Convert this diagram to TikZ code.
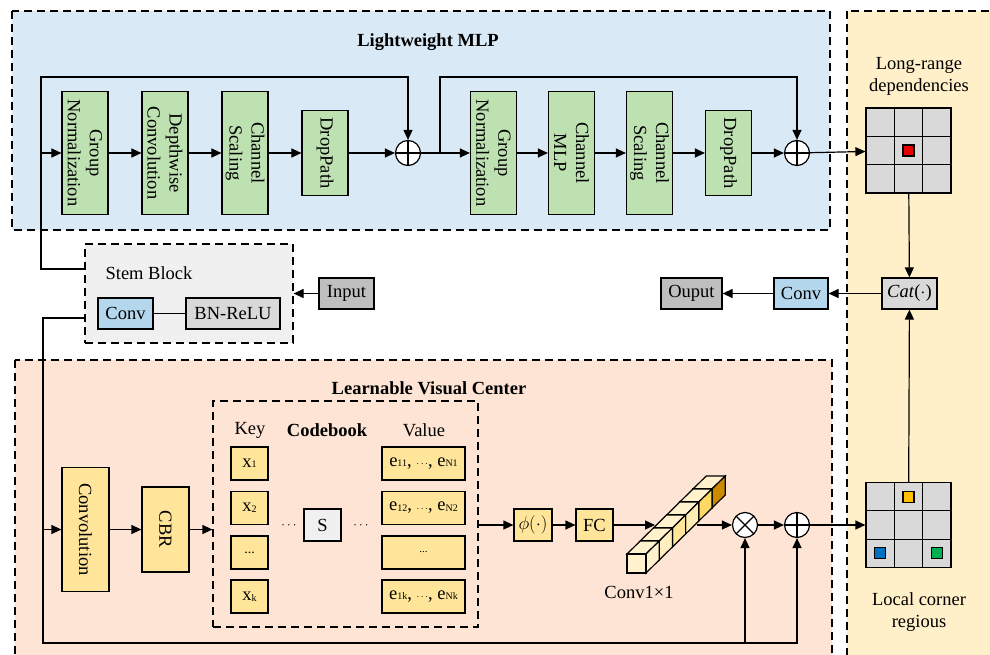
\RequirePackage{fix-cm}
\documentclass[tikz,border=0pt]{standalone}
\usepackage{fontspec}
\setmainfont{Liberation Serif}
\usetikzlibrary{arrows.meta}

\definecolor{mlpblue}{RGB}{218,233,246}
\definecolor{mlpgreen}{RGB}{190,225,178}
\definecolor{cornyellow}{RGB}{255,240,201}
\definecolor{lvcsalmon}{RGB}{253,228,212}
\definecolor{stemgray}{RGB}{240,240,240}
\definecolor{convblue}{RGB}{180,215,238}
\definecolor{bngray}{RGB}{217,217,217}
\definecolor{iogray}{RGB}{191,191,191}
\definecolor{keyyellow}{RGB}{255,229,153}
\definecolor{cellgray}{RGB}{217,217,217}
\definecolor{cellred}{RGB}{230,0,0}
\definecolor{cellorange}{RGB}{255,192,0}
\definecolor{cellblue}{RGB}{0,112,192}
\definecolor{cellgreen}{RGB}{0,176,80}
\definecolor{cubecream}{RGB}{255,242,204}
\definecolor{cubeA}{RGB}{255,242,204}
\definecolor{cubeB}{RGB}{255,238,192}
\definecolor{cubeC}{RGB}{255,230,153}
\definecolor{cubeD}{RGB}{255,236,180}
\definecolor{cubeE}{RGB}{255,217,102}
\definecolor{cubeF}{RGB}{204,138,0}

\newcommand{\ksub}[1]{\raisebox{-0.5pt}{\fontsize{10}{10}\selectfont #1}}

\tikzset{
	panel/.style={dash pattern=on 8pt off 5pt},
	box/.style={draw, inner sep=0pt, align=center},
	greenbox/.style={box, fill=mlpgreen, rotate=-90, minimum height=46pt},
	yellowbox/.style={box, fill=keyyellow},
	keybox/.style={yellowbox, minimum width=37pt, minimum height=33pt},
	valbox/.style={yellowbox, minimum width=83pt, minimum height=33pt},
	plus/.style={circle, draw, fill=white, minimum size=25pt, inner sep=0pt,
		path picture={\draw (path picture bounding box.north) -- (path picture bounding box.south)
			(path picture bounding box.west) -- (path picture bounding box.east);}},
	times/.style={circle, draw, fill=white, minimum size=25pt, inner sep=0pt,
		path picture={\draw (path picture bounding box.north west) -- (path picture bounding box.south east)
			(path picture bounding box.north east) -- (path picture bounding box.south west);}},
	mark square/.style={box, minimum size=11pt}
}

\begin{document}
\begin{tikzpicture}[x=1pt,y=-1pt,line width=1.2pt,>={Triangle[length=10pt,width=9pt]},font=\fontsize{18.5}{22}\selectfont]
		
		\path[use as bounding box,clip] (0,0) rectangle (990,655);
		
		\draw[panel,fill=mlpblue] (12,11) rectangle (830,230);
		\draw[panel,fill=cornyellow] (847,11) rectangle (1000,670);
		\draw[panel,fill=lvcsalmon] (15,360) rectangle (832,670);
		
		\node(mlptitle) at (428,42){\textbf{Lightweight MLP}};
		\node(lvctitle) at (429,388){\textbf{Learnable Visual Center}};
		
		\node(gn1) at (85,153)[greenbox, minimum width=123pt]{Group\\Normalization};
		\node(dw) at (165,153)[greenbox, minimum width=123pt]{Depthwise\\Convolution};
		\node(cs1) at (245,153)[greenbox, minimum width=123pt]{Channel\\Scaling};
		\node(dp1) at (325,153)[greenbox, minimum width=85pt]{DropPath};
		\node(plus1) at (408,153)[plus]{};
		\node(gn2) at (493.5,153)[greenbox, minimum width=123pt]{Group\\Normalization};
		\node(mlp) at (571.5,153)[greenbox, minimum width=123pt]{Channel\\MLP};
		\node(cs2) at (649.5,153)[greenbox, minimum width=123pt]{Channel\\Scaling};
		\node(dp2) at (728.5,153)[greenbox, minimum width=85pt]{DropPath};
		\node(plus2) at (797,153)[plus]{};
		\coordinate(split1) at (41,153);
		\coordinate(split2) at (440,153);
		
		\node(lrtext) at (919,76)[align=center]{Long-range\\dependencies};
		\node(lrgrid) at (908.5,150.5)[box, fill=cellgray, minimum size=85pt]{};
		\foreach \k in {1,2} {
			\draw (866+28.33*\k,108) -- ++(0,85);
			\draw (866,108+28.33*\k) -- ++(85,0);
		}
		\node(redsq) at (908.5,150.5)[mark square, fill=cellred]{};
		
		\node(stem) at (189,293.5)[draw, panel, fill=stemgray, minimum width=208pt, minimum height=99pt]{};
		\node(stemtext) at (149,273){Stem Block};
		\node(conv1) at (125.5,313.5)[box, fill=convblue, minimum width=55pt, minimum height=31pt]{Conv};
		\node(bnrelu) at (233,313.5)[box, fill=bngray, minimum width=94pt, minimum height=31pt]{BN-ReLU};
		\node(input) at (346.5,293.5)[box, fill=iogray, minimum width=55pt, minimum height=31pt]{Input};
		\coordinate(sin) at (85,269);
		\coordinate(sout) at (85,318);
		
		\node(cat) at (909.5,293.5)[box, fill=bngray, minimum width=55pt, minimum height=31pt]{\textit{Cat}($\cdot$)};
		\node(conv2) at (801,293.5)[box, fill=convblue, minimum width=54pt, minimum height=31pt]{Conv};
		\node(outp) at (691.5,293.5)[box, fill=iogray, minimum width=61pt, minimum height=31pt]{Ouput};
		
		\node(convol) at (85.5,529.5)[box, fill=keyyellow, rotate=-90, minimum width=124pt, minimum height=47pt]{Convolution};
		\node(cbr) at (165.5,529.5)[box, fill=keyyellow, rotate=-90, minimum width=85pt, minimum height=47pt]{CBR};
		\coordinate(split3) at (43,529.5);
		\coordinate(sbot) at (43,643);
		
		\node(cb) at (345.5,514)[draw, panel, minimum width=265pt, minimum height=226pt]{};
		\node(keytext) at (250,430){Key};
		\node(cbtext) at (327,430){\textbf{Codebook}};
		\node(valtext) at (424,430){Value};
		\node(k1) at (249.5,463.5)[keybox]{x\ksub{1}};
		\node(k2) at (249.5,508)[keybox]{x\ksub{2}};
		\node(k3) at (249.5,552.5)[keybox]{\fontsize{14}{14}\selectfont...};
		\node(k4) at (249.5,596.5)[keybox]{x\ksub{k}};
		\node(v1) at (423.5,463.5)[valbox]{e\ksub{11}, \ksub{$\cdots$}, e\ksub{N1}};
		\node(v2) at (423.5,508)[valbox]{e\ksub{12}, \ksub{$\cdots$}, e\ksub{N2}};
		\node(v3) at (423.5,552.5)[valbox]{\fontsize{11}{11}\selectfont...};
		\node(v4) at (423.5,596.5)[valbox]{e\ksub{1k}, \ksub{$\cdots$}, e\ksub{Nk}};
		\node(s) at (322.5,525)[box, fill=stemgray, minimum width=37pt, minimum height=32pt]{S};
		\node(dots1) at (289,526){\fontsize{13}{13}\selectfont$\cdots$};
		\node(dots2) at (361,526){\fontsize{13}{13}\selectfont$\cdots$};
		
		\node(phi) at (533,525)[yellowbox, minimum width=38pt, minimum height=32pt]{$\phi(\cdot)$};
		\node(fc) at (594.5,525)[yellowbox, minimum width=37pt, minimum height=32pt]{FC};
		\coordinate(barin) at (655,525);
		\coordinate(barout) at (697,525);
		\node(times) at (745,525)[times]{};
		\node(plus3) at (797,525)[plus]{};
		\node(convtext) at (639,592){Conv1×1};
		
		\node(lcgrid) at (908.5,525)[box, fill=cellgray, minimum size=85pt]{};
		\foreach \k in {1,2} {
			\draw (866+28.33*\k,482.5) -- ++(0,85);
			\draw (866,482.5+28.33*\k) -- ++(85,0);
		}
		\node(orangesq) at (908.5,496.7)[mark square, fill=cellorange]{};
		\node(bluesq) at (880.2,553.3)[mark square, fill=cellblue]{};
		\node(greensq) at (936.8,553.3)[mark square, fill=cellgreen]{};
		\node(lctext) at (919,612)[align=center]{Local corner\\regious};
		
			\draw (sin) -| (split1);
			\draw[->] (split1) -- (gn1);
			\draw[->] (split1) -- (41,77) -| (plus1);
			\draw[->] (gn1) -- (dw);
			\draw[->] (dw) -- (cs1);
			\draw[->] (cs1) -- (dp1);
			\draw[->] (dp1) -- (plus1);
			\draw (plus1) -- (split2);
			\draw[->] (split2) -- (gn2);
			\draw[->] (split2) -- (440,77) -| (plus2);
			\draw[->] (gn2) -- (mlp);
			\draw[->] (mlp) -- (cs2);
			\draw[->] (cs2) -- (dp2);
			\draw[->] (dp2) -- (plus2);
			\draw[->] (plus2) -- (lrgrid);
			\draw[->] (lrgrid) -- (cat);
			\draw[->] (lcgrid) -- (cat);
			\draw[->] (cat) -- (conv2);
			\draw[->] (conv2) -- (outp);
			\draw[->] (input) -- (stem);
			\draw (conv1) -- (bnrelu);
			\draw (sout) -| (split3);
			\draw[->] (split3) |- (sbot) -| (plus3.south);
			\draw[->] (times |- sbot) -- (times.south);
			\draw[->] (split3) -- (convol);
			\draw[->] (convol) -- (cbr);
			\draw[->] (cbr) -- (cbr -| cb.west);
			\draw[->] (phi -| cb.east) -- (phi);
			\draw[->] (phi) -- (fc);
			\draw[->] (fc) -- (barin);
			\draw[->] (barout) -- (times);
			\draw[->] (times) -- (plus3);
			\draw[->] (plus3) -- (lcgrid);
		
		\foreach \i/\sc in {5/cubeF,4/cubeE,3/cubeD,2/cubeC,1/cubeB,0/cubeA} {
			\begin{scope}[shift={(13.2*\i,-13*\i)}]
				\draw[fill=cubecream] (627,554) -- ++(13.2,-13) -- ++(19,0) -- (646,554) -- cycle;
				\draw[fill=\sc] (646,554) -- ++(13.2,-13) -- ++(0,19) -- (646,573) -- cycle;
				\draw[fill=cubecream] (627,554) rectangle (646,573);
			\end{scope}
		}
		
	\end{tikzpicture}
\end{document}
